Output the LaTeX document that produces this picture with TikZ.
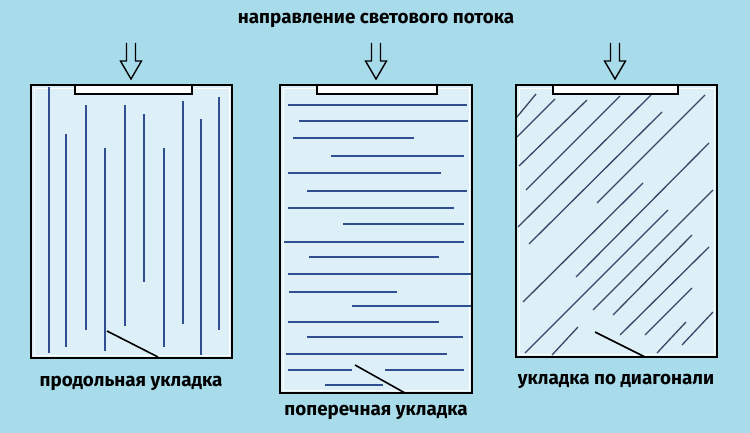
\documentclass[tikz,border=0pt]{standalone}
\usepackage{fontspec}
\setmainfont{Fira Sans}
\definecolor{bg}{RGB}{168,220,235}
\definecolor{panel}{RGB}{221,240,248}
\definecolor{fiber}{RGB}{48,78,145}
\definecolor{fiberd}{RGB}{58,68,100}
\begin{document}
\begin{tikzpicture}[x=1pt,y=-1pt,
  frame/.style={draw=black,line width=2.2pt,fill=panel},
  inner/.style={draw=white,line width=0.8pt},
  bar/.style={draw=black,line width=1.5pt,fill=white},
  fib/.style={draw=fiber,line width=2pt},
  fibd/.style={draw=fiberd,line width=1.3pt},
  crack/.style={draw=black,line width=1.6pt},
  lbl/.style={font=\bfseries\fontsize{18.8}{22}\selectfont,text=black,inner sep=0pt},
  flow/.style={draw=black,line width=1.4pt,line join=miter},
  flowarrow/.pic={\draw[flow] (-4.5,0) -- (-4.5,18) -- (-10.5,18) -- (0,36) -- (10.5,18) -- (4.5,18) -- (4.5,0);}]
\fill[bg] (0,0) rectangle (750,433);
\useasboundingbox (0,0) rectangle (750,433);

% title and arrows
\node[lbl] (title) at (376,20) {направление светового потока};
\pic at (131,43) {flowarrow};
\pic at (376,43) {flowarrow};
\pic at (615,43) {flowarrow};

% ---------- panel 1 ----------
\path[frame] (31,85) rectangle (232,358);
\draw[inner] (34,88) rectangle (229,355);
\foreach \x/\a/\b in {49/87/353, 66/134/347, 86/105/330, 105/148/351, 125/105/326,
  144/114/282, 164/148/347, 183/101/324, 201/119/355, 219/97/330}
  \draw[fib] (\x,\a) -- (\x,\b);
\draw[crack] (107,331) -- (158,357);
\draw[bar] (75,85) rectangle (192,94);
\draw[black,line width=2.2pt] (31,85) rectangle (232,358);
\node[lbl] (l1) at (131,383) {продольная укладка};

% ---------- panel 2 ----------
\path[frame] (280,85) rectangle (472,393);
\draw[inner] (283,88) rectangle (469,390);
\foreach \y/\a/\b in {105/288/467, 121/299/468, 138/293/414, 156/331/464, 173/288/441,
  191/307/467, 208/288/454, 224/343/464, 242/284/464, 257/309/439, 274/288/471,
  292/289/397, 306/352/471, 322/288/439, 337/307/463, 354/286/447, 370/288/352,
  370/385/464, 385/325/383}
  \draw[fib] (\a,\y) -- (\b,\y);
\draw[crack] (355,365) -- (405,393);
\draw[bar] (317,85) rectangle (437,94);
\draw[black,line width=2.2pt] (280,85) rectangle (472,393);
\node[lbl] (l2) at (376,412) {поперечная укладка};

% ---------- panel 3 ----------
\path[frame] (516,85) rectangle (717,357);
\draw[inner] (519,88) rectangle (714,354);
\foreach \xa/\ya/\xb/\yb in {517/117/536/94, 517/137/555/99, 519/166/587/100,
  526/190/620/96, 518/227/651/95, 529/244/662/112, 597/203/705/95, 523/302/643/183,
  576/277/709/143, 593/310/713/190, 525/353/668/210, 613/315/692/235,
  620/335/709/247, 645/335/692/288, 657/353/686/322, 682/345/713/312, 552/355/578/327}
  \draw[fibd] (\xa,\ya) -- (\xb,\yb);
\draw[crack] (595,332) -- (645,357);
\draw[bar] (553,85) rectangle (678,94);
\draw[black,line width=2.2pt] (516,85) rectangle (717,357);
\node[lbl] (l3) at (616,381) {укладка по диагонали};
\end{tikzpicture}
\end{document}
